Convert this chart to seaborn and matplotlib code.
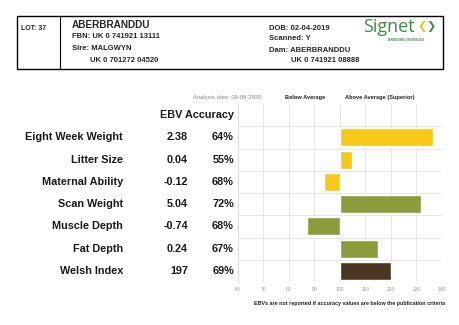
import matplotlib
matplotlib.use("Agg")
import matplotlib.pyplot as plt
import matplotlib.transforms as mtransforms
from matplotlib.patches import Rectangle
import seaborn as sns
import pandas as pd
import numpy as np

# ---- data ----
traits = ["Eight Week Weight", "Litter Size", "Maternal Ability", "Scan Weight",
          "Muscle Depth", "Fat Depth", "Welsh Index"]
ebv_text = ["2.38", "0.04", "-0.12", "5.04", "-0.74", "0.24", "197"]
accuracy_text = ["64%", "55%", "68%", "72%", "68%", "67%", "69%"]
scores = [136.5, 104.8, 93.9, 131.8, 87.0, 114.8, 120.0]
bar_colors = ["#F6C918", "#F6C918", "#F6C918", "#8A9C3C", "#8A9C3C", "#8A9C3C", "#4B3621"]
tick_values = [60, 70, 80, 90, 100, 110, 120, 130, 140]
baseline = 100

sns.set_theme(style="white")
plt.rcParams["font.family"] = ["Liberation Sans", "DejaVu Sans"]

W, H = 460, 325
fig = plt.figure(figsize=(W / 100, H / 100), dpi=100)
fig.patch.set_facecolor("white")

def fx(px):
    return px / W

def fy(py):
    return 1 - py / H

# ---- header box ----
box = Rectangle((fx(17), fy(69)), fx(443) - fx(17), fy(16) - fy(69),
                transform=fig.transFigure, fill=False, edgecolor="black", lw=1.0)
fig.add_artist(box)
fig.add_artist(plt.Line2D([fx(60), fx(60)], [fy(16), fy(69)], transform=fig.transFigure,
                          color="black", lw=0.8))

def ftxt(x, y, s, size, **kw):
    fig.text(fx(x), fy(y), s, fontsize=size, va="center", **kw)

ftxt(21, 29, "LOT: 37", 5.0, fontweight="bold")
ftxt(72, 25, "ABERBRANDDU", 7.2, fontweight="bold")
ftxt(72, 36, "FBN: UK 0 741921 13111", 5.5, fontweight="bold")
ftxt(72, 49, "Sire: MALGWYN", 5.5, fontweight="bold")
ftxt(90, 61, "UK 0 701272 04520", 5.5, fontweight="bold")
ftxt(269, 28, "DOB: 02-04-2019", 5.5, fontweight="bold")
ftxt(269, 39, "Scanned: Y", 5.5, fontweight="bold")
ftxt(269, 50, "Dam: ABERBRANDDU", 5.5, fontweight="bold")
ftxt(291, 61, "UK 0 741921 08888", 5.5, fontweight="bold")
# logo
ftxt(363, 27, "Signet", 13.0, color="#3E8E41", family=["Open Sans", "DejaVu Sans"])
ftxt(417, 27, "\u276e", 8, color="#F2C21B", family=["DejaVu Sans"])
ftxt(426.5, 27, "\u276f", 8, color="#3E8E41", family=["DejaVu Sans"])
ftxt(388, 40, "BREEDING SERVICES", 2.4, color="#3E8E41", fontweight="bold")

# ---- chart ----
ax = fig.add_axes([fx(238), fy(282), fx(442) - fx(238), fy(104) - fy(282)])
df = pd.DataFrame({"trait": traits, "dev": [s - baseline for s in scores]})
sns.barplot(data=df, x="dev", y="trait", hue="trait", palette=bar_colors,
            order=traits, hue_order=traits, legend=False, width=0.8,
            saturation=1, ax=ax)
ax.set_xlim(tick_values[0] - baseline, tick_values[-1] - baseline)
ax.set_ylim(6.5, -1.5)
ax.set_xticks([t - baseline for t in tick_values])
ax.set_xticklabels([str(t) for t in tick_values], fontsize=3.6, color="#999999")
ax.tick_params(axis="x", length=0, pad=3.5)
ax.set_yticks([])
ax.set_xlabel("")
ax.set_ylabel("")
for sp in ["top", "right", "bottom"]:
    ax.spines[sp].set_visible(False)
ax.spines["left"].set_color("#dddddd")
ax.spines["left"].set_linewidth(0.7)
for t in tick_values[1:]:
    ax.axvline(t - baseline, color="#e3e3e3", lw=0.6, zorder=0)
for yb in np.arange(-0.5, 6.0, 1.0):
    ax.axhline(yb, color="#e3e3e3", lw=0.6, zorder=0)

# row texts
tr = mtransforms.blended_transform_factory(fig.transFigure, ax.transData)
for i, (name, ebv, acc) in enumerate(zip(traits, ebv_text, accuracy_text)):
    ax.text(fx(123), i, name, transform=tr, ha="right", va="center",
            fontsize=7.8, fontweight="bold", color="#1a1a1a")
    ax.text(fx(188), i, ebv, transform=tr, ha="right", va="center",
            fontsize=7.8, fontweight="bold", color="#1a1a1a")
    ax.text(fx(234), i, acc, transform=tr, ha="right", va="center",
            fontsize=7.8, fontweight="bold", color="#1a1a1a")
ax.text(fx(234), -1, "EBV Accuracy", transform=tr, ha="right", va="center",
        fontsize=7.8, fontweight="bold", color="#1a1a1a")

# labels above chart
ftxt(193, 97, "Analysis date: 09-08-2020", 4.2, color="#888888")
ftxt(285, 97, "Below Average", 4.1, fontweight="bold", color="#222222")
ftxt(345, 97, "Above Average (Superior)", 4.1, fontweight="bold", color="#222222")
fig.text(fx(445), fy(304), "EBVs are not reported if accuracy values are below the publication criteria",
         fontsize=3.85, fontweight="bold", ha="right", va="center", color="#222222")

fig.savefig("out.png", dpi=100, facecolor="white")
